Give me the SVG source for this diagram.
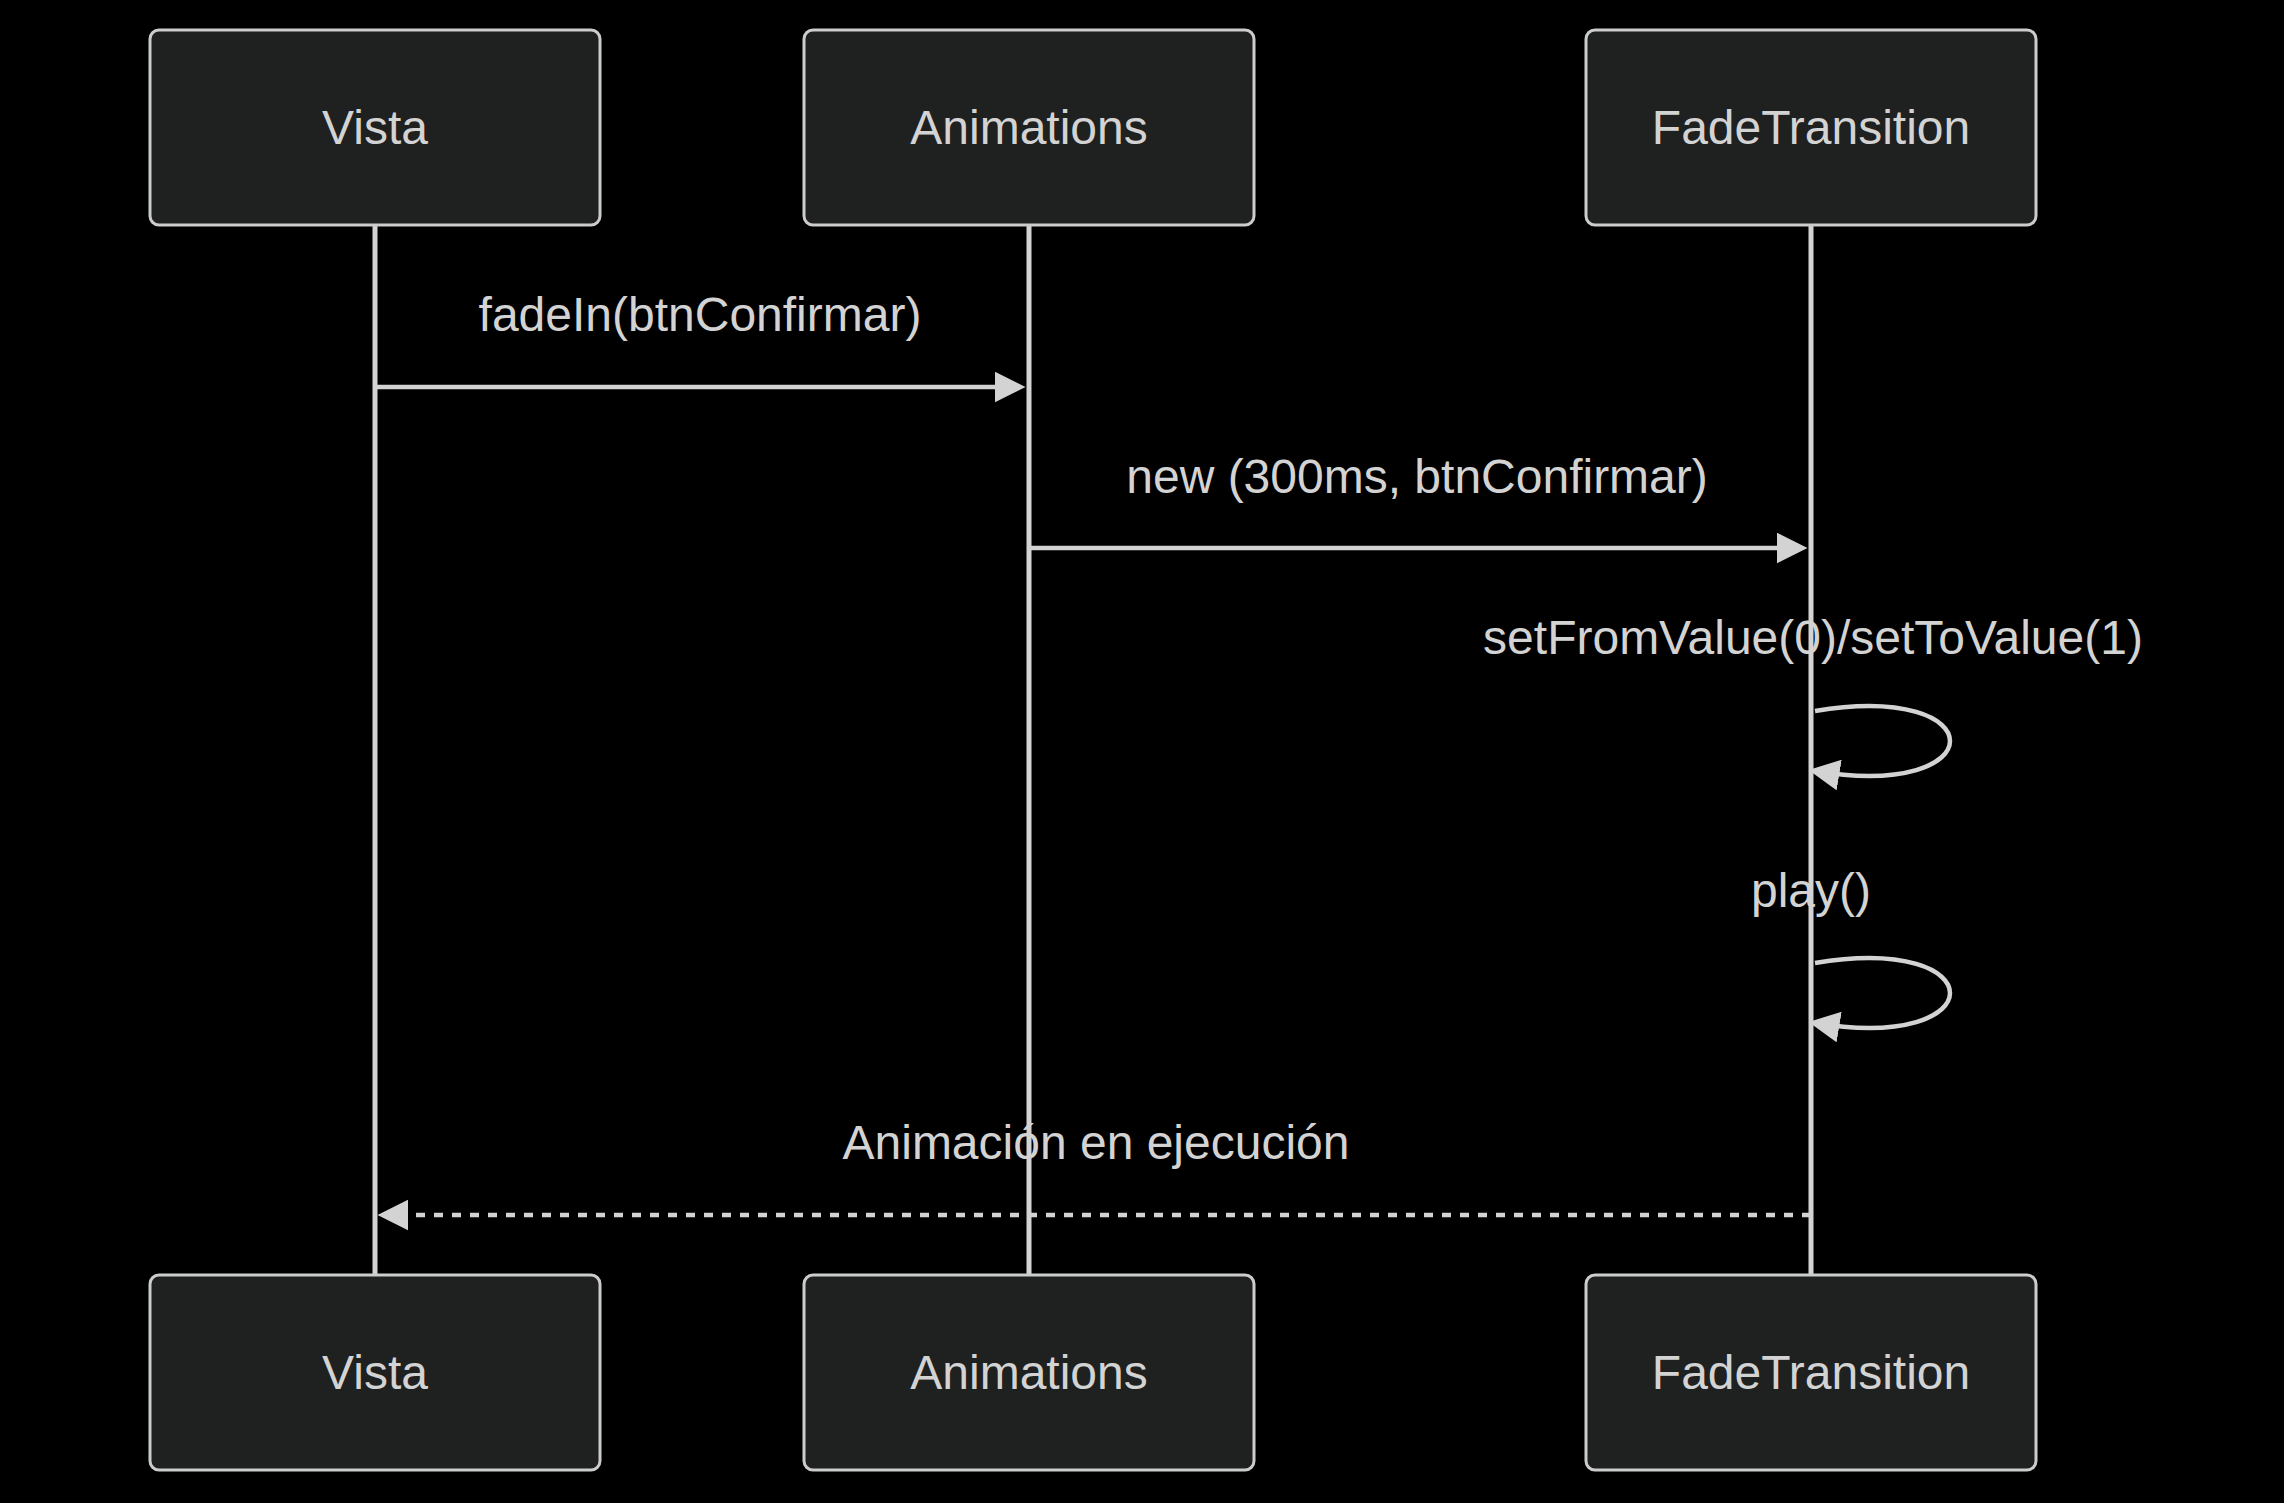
<svg xmlns="http://www.w3.org/2000/svg" width="2284" height="1503" viewBox="0 0 2284 1503">
<style>
.actor rect{fill:#1f2020;stroke:#cccccc;stroke-width:3}
.actor text,.msg{font-family:"Liberation Sans",Arial,sans-serif;font-size:48px;fill:#d3d3d3;text-anchor:middle}
.life{stroke:#d3d3d3;stroke-width:5}
.line{stroke:#d3d3d3;stroke-width:4.5;fill:none}
.dash{stroke-dasharray:9 9}
</style>
<defs>
<marker id="arrow" viewBox="0 0 10 10" refX="7.9" refY="5" markerWidth="31" markerHeight="31" markerUnits="userSpaceOnUse" orient="auto">
<path d="M0,0 L10,5 L0,10 z" fill="#d3d3d3"/>
</marker>
</defs>
<rect width="2284" height="1503" fill="#000000"/>
<g id="lifelines">
<line class="life" x1="375" y1="225" x2="375" y2="1275"/>
<line class="life" x1="1029" y1="225" x2="1029" y2="1275"/>
<line class="life" x1="1811" y1="225" x2="1811" y2="1275"/>
</g>
<g id="actor-vista-top" class="actor"><rect x="150" y="30" width="450" height="195" rx="9"/><text x="375" y="144">Vista</text></g>
<g id="actor-animations-top" class="actor"><rect x="804" y="30" width="450" height="195" rx="9"/><text x="1029" y="144">Animations</text></g>
<g id="actor-fade-top" class="actor"><rect x="1586" y="30" width="450" height="195" rx="9"/><text x="1811" y="144">FadeTransition</text></g>
<g id="actor-vista-bottom" class="actor"><rect x="150" y="1275" width="450" height="195" rx="9"/><text x="375" y="1389">Vista</text></g>
<g id="actor-animations-bottom" class="actor"><rect x="804" y="1275" width="450" height="195" rx="9"/><text x="1029" y="1389">Animations</text></g>
<g id="actor-fade-bottom" class="actor"><rect x="1586" y="1275" width="450" height="195" rx="9"/><text x="1811" y="1389">FadeTransition</text></g>
<g id="connectors">
<text class="msg" x="700" y="331">fadeIn(btnConfirmar)</text>
<line class="line" x1="375" y1="387" x2="1019" y2="387" marker-end="url(#arrow)"/>
<text class="msg" x="1417" y="493">new (300ms, btnConfirmar)</text>
<line class="line" x1="1029" y1="548" x2="1801" y2="548" marker-end="url(#arrow)"/>
<text class="msg" x="1813" y="654">setFromValue(0)/setToValue(1)</text>
<path class="line" d="M1815,711 C1995,681 1995,801 1815,771" marker-end="url(#arrow)"/>
<text class="msg" x="1811" y="907">play()</text>
<path class="line" d="M1815,963 C1995,933 1995,1053 1815,1023" marker-end="url(#arrow)"/>
<text class="msg" x="1096" y="1159">Animación en ejecución</text>
<line class="line dash" x1="1811" y1="1215" x2="384" y2="1215" marker-end="url(#arrow)"/>
</g>
</svg>
